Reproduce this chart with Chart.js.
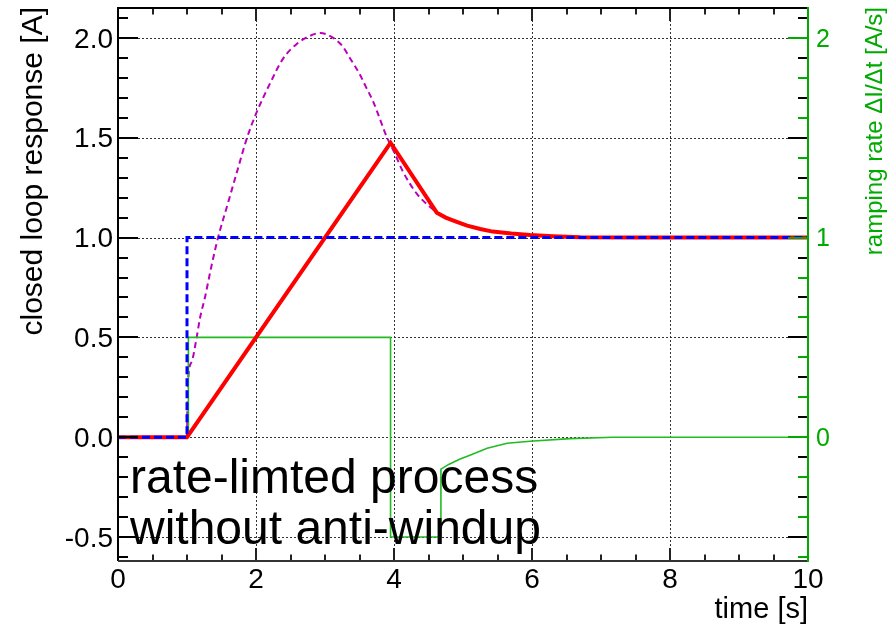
<!DOCTYPE html>
<html>
<head>
<meta charset="utf-8">
<script src="https://cdn.jsdelivr.net/npm/chart.js@4/dist/chart.umd.min.js"></script>
<style>
html,body{margin:0;padding:0;background:#fff;}
#wrap{width:895px;height:632px;}
</style>
</head>
<body>
<div id="wrap"><canvas id="c" width="895" height="632"></canvas></div>
<script>
// ---- data ----
const timeSetpoint = [0, 1, 1, 10];
const setpoint     = [0, 0, 1, 1];

const timeResponse = [0, 1, 3.95, 4.62, 4.75, 4.9, 5.06, 5.25, 5.43, 5.7, 5.97, 6.3, 6.7, 7.5, 10];
const response     = [0, 0, 1.475, 1.125, 1.1, 1.08, 1.06, 1.043, 1.03, 1.02, 1.013, 1.007, 1.002, 1.0, 1.0];

const timeUnlimited = [1, 1.01, 1.07, 1.14, 1.19, 1.26, 1.35, 1.45, 1.6, 1.75, 1.87, 2.0, 2.2, 2.39, 2.59, 2.78, 2.93, 3.12, 3.25, 3.36, 3.5, 3.6, 3.7, 3.8, 3.9, 4.0, 4.13, 4.33, 4.5, 4.62];
const unlimited     = [0, 0.25, 0.38, 0.5, 0.6, 0.7, 0.85, 1.0, 1.18, 1.36, 1.5, 1.62, 1.77, 1.895, 1.97, 2.01, 2.025, 2.0, 1.96, 1.9, 1.82, 1.75, 1.68, 1.59, 1.5, 1.43, 1.33, 1.22, 1.16, 1.125];

const timeRate = [0, 1.02, 1.02, 3.95, 3.95, 4.68, 4.68, 4.8, 4.95, 5.1, 5.35, 5.64, 5.97, 6.55, 7.17, 10];
const rate     = [0, 0, 0.5, 0.5, -0.5, -0.5, -0.16, -0.135, -0.11, -0.09, -0.055, -0.03, -0.02, -0.007, 0, 0];

const xTickValues  = [0, 2, 4, 6, 8, 10];
const yTickValues  = [-0.5, 0, 0.5, 1, 1.5, 2];
const y2TickValues = [0, 1, 2];

const xTitle  = 'time [s]';
const yTitle  = 'closed loop response [A]';
const y2Title = 'ramping rate \u0394I/\u0394t [A/s]';
const noteLines = ['rate-limted process', 'without anti-windup'];

// ---- build chart ----
const FONT = "'Liberation Sans', Arial, Helvetica, sans-serif";
const GREEN_AXIS = '#00aa00';
const GREEN_LINE = '#22bb22';
const zip = (xs, ys) => xs.map((x, i) => ({x: x, y: ys[i]}));

const framePlugin = {
  id: 'frame',
  beforeDatasetsDraw(chart) {
    const ctx = chart.ctx, a = chart.chartArea;
    const xs = chart.scales.x, ys = chart.scales.y;
    ctx.save();
    ctx.strokeStyle = '#333';
    ctx.lineWidth = 1;
    ctx.setLineDash([2, 2]);
    xTickValues.forEach(v => {
      const px = Math.round(xs.getPixelForValue(v)) + 0.5;
      if (v <= xs.min || v >= xs.max) return;
      ctx.beginPath(); ctx.moveTo(px, a.top); ctx.lineTo(px, a.bottom); ctx.stroke();
    });
    yTickValues.forEach(v => {
      const py = Math.round(ys.getPixelForValue(v)) + 0.5;
      ctx.beginPath(); ctx.moveTo(a.left, py); ctx.lineTo(a.right, py); ctx.stroke();
    });
    ctx.restore();
  },
  afterDatasetsDraw(chart) {
    const ctx = chart.ctx, a = chart.chartArea;
    const xs = chart.scales.x, ys = chart.scales.y, y2 = chart.scales.y2;
    ctx.save();
    ctx.setLineDash([]);
    ctx.strokeStyle = '#222'; ctx.lineWidth = 2;
    for (let i = 0; i <= 20; i++) {
      const v = i * 0.5;
      const px = Math.round(xs.getPixelForValue(v));
      const len = (i % 4 === 0) ? 13 : 6.5;
      ctx.beginPath(); ctx.moveTo(px, a.bottom); ctx.lineTo(px, a.bottom - len); ctx.stroke();
      ctx.beginPath(); ctx.moveTo(px, a.top); ctx.lineTo(px, a.top + len); ctx.stroke();
    }
    for (let i = -6; i <= 21; i++) {
      const v = i / 10;
      if (v < ys.min || v > ys.max) continue;
      const py = Math.round(ys.getPixelForValue(v));
      const len = (i % 5 === 0) ? 20 : 10;
      ctx.strokeStyle = '#000';
      ctx.beginPath(); ctx.moveTo(a.left, py); ctx.lineTo(a.left + len, py); ctx.stroke();
      ctx.beginPath(); ctx.moveTo(a.right, py); ctx.lineTo(a.right - len, py); ctx.stroke();
    }
    ctx.strokeStyle = GREEN_AXIS;
    for (let i = -3; i <= 10; i++) {
      const v = i / 5;
      if (v < y2.min || v > y2.max) continue;
      const py = Math.round(y2.getPixelForValue(v));
      const len = (i % 5 === 0) ? 20 : 10;
      ctx.beginPath(); ctx.moveTo(a.right, py); ctx.lineTo(a.right - len, py); ctx.stroke();
    }
    ctx.lineWidth = 2;
    ctx.strokeStyle = '#000';
    ctx.beginPath(); ctx.moveTo(a.left, a.bottom); ctx.lineTo(a.left, a.top); ctx.lineTo(a.right, a.top); ctx.stroke();
    ctx.strokeStyle = '#333';
    ctx.beginPath(); ctx.moveTo(a.left, a.bottom); ctx.lineTo(a.right, a.bottom); ctx.stroke();
    ctx.strokeStyle = GREEN_AXIS;
    ctx.beginPath(); ctx.moveTo(a.right, a.top - 1); ctx.lineTo(a.right, a.bottom + 1); ctx.stroke();
    ctx.restore();
  },
  afterDraw(chart) {
    const ctx = chart.ctx, a = chart.chartArea;
    ctx.save();
    ctx.fillStyle = '#000';
    ctx.textBaseline = 'alphabetic';
    ctx.textAlign = 'right';
    ctx.font = '29px ' + FONT;
    ctx.fillText(xTitle, a.right, 618);
    ctx.save();
    ctx.font = '30px ' + FONT;
    ctx.translate(42, 7); ctx.rotate(-Math.PI / 2);
    ctx.fillText(yTitle, 0, 0);
    ctx.restore();
    ctx.save();
    ctx.font = '24px ' + FONT;
    ctx.fillStyle = GREEN_AXIS;
    ctx.translate(882, 7); ctx.rotate(-Math.PI / 2);
    ctx.fillText(y2Title, 0, 0);
    ctx.restore();
    ctx.textAlign = 'left';
    ctx.font = '48px ' + FONT;
    ctx.fillStyle = '#000';
    ctx.fillText(noteLines[0], 130, 493);
    ctx.fillText(noteLines[1], 130, 544);
    ctx.restore();
  }
};

function fixWidth(w) {
  return s => { s.width = w; s.paddingTop = 0; s.paddingBottom = 0; s.paddingLeft = 0; s.paddingRight = 0; };
}

new Chart(document.getElementById('c'), {
  type: 'line',
  data: {
    datasets: [
      { label: 'setpoint', data: zip(timeSetpoint, setpoint), yAxisID: 'y', borderColor: '#0000ff', borderWidth: 3, borderDash: [8, 4], order: 0 },
      { label: 'rate-limited', data: zip(timeResponse, response), yAxisID: 'y', borderColor: '#ff0000', borderWidth: 4, order: 1 },
      { label: 'ramping rate', data: zip(timeRate, rate), yAxisID: 'y2', borderColor: GREEN_LINE, borderWidth: 1.6, order: 2 },
      { label: 'unlimited', data: zip(timeUnlimited, unlimited), yAxisID: 'y', borderColor: '#bb00bb', borderWidth: 2, borderDash: [6, 4], cubicInterpolationMode: 'monotone', order: 3 }
    ]
  },
  options: {
    responsive: false,
    animation: false,
    devicePixelRatio: 1,
    layout: { padding: { top: 8, left: 0, right: 0, bottom: 0 } },
    elements: { point: { radius: 0 }, line: { tension: 0, fill: false } },
    plugins: { legend: { display: false }, tooltip: { enabled: false } },
    scales: {
      x: {
        type: 'linear', position: 'bottom', min: 0, max: 10,
        afterBuildTicks: s => { s.ticks = xTickValues.map(v => ({ value: v })); },
        ticks: { font: { size: 28, family: FONT }, color: '#000', padding: 2, maxRotation: 0, autoSkip: false, callback: v => String(v) },
        grid: { display: false, drawTicks: false },
        border: { display: false },
        afterFit: s => { s.height = 71; s.paddingLeft = 0; s.paddingRight = 0; s.paddingTop = 0; s.paddingBottom = 0; }
      },
      y: {
        type: 'linear', position: 'left', min: -0.62, max: 2.15,
        afterBuildTicks: s => { s.ticks = yTickValues.map(v => ({ value: v })); },
        ticks: { font: { size: 28, family: FONT }, color: '#000', padding: 5, labelOffset: 2, autoSkip: false, callback: v => v.toFixed(1) },
        grid: { display: false, drawTicks: false },
        border: { display: false },
        afterFit: fixWidth(118)
      },
      y2: {
        type: 'linear', position: 'right', min: -0.62, max: 2.15,
        afterBuildTicks: s => { s.ticks = y2TickValues.map(v => ({ value: v })); },
        ticks: { font: { size: 25, family: FONT }, color: GREEN_AXIS, padding: 8, labelOffset: 2, autoSkip: false, callback: v => String(v) },
        grid: { display: false, drawTicks: false },
        border: { display: false },
        afterFit: fixWidth(87)
      }
    }
  },
  plugins: [framePlugin]
});
</script>
</body>
</html>
